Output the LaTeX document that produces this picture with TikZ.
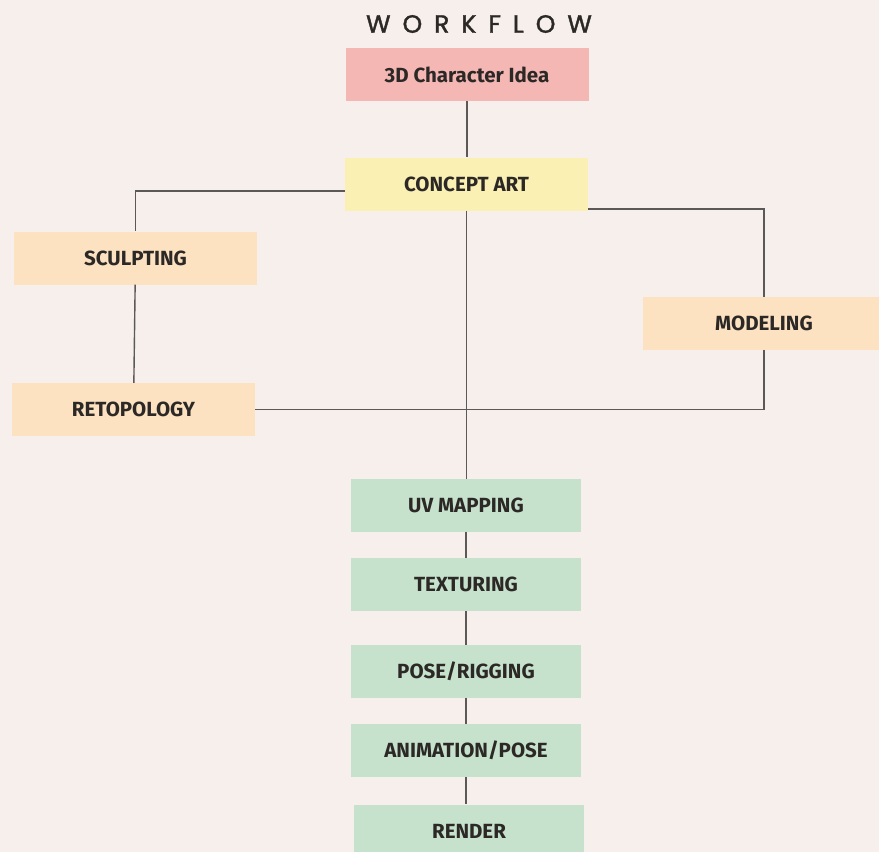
\documentclass[tikz,border=0pt]{standalone}
\usepackage{fontspec}
\setmainfont{Fira Sans}
\newfontfamily\titlefont[LetterSpace=48,FakeBold=1.5]{Poppins}
\usetikzlibrary{positioning}

\definecolor{paper}{HTML}{F6EFEB}
\definecolor{ideafill}{HTML}{F4B7B4}
\definecolor{conceptfill}{HTML}{FAF0B3}
\definecolor{shapefill}{HTML}{FDE2C2}
\definecolor{texfill}{HTML}{C6E2CC}
\definecolor{wire}{HTML}{5C5858}
\definecolor{ink}{HTML}{2B2826}

\begin{document}
\begin{tikzpicture}[x=1pt,y=-1pt]
\tikzstyle{box} = [rectangle, minimum width=243pt, minimum height=53pt,
inner sep=0pt, text=ink, font=\fontsize{20.5}{24}\selectfont\bfseries]
\tikzstyle{idea} = [box, fill=ideafill]
\tikzstyle{concept} = [box, fill=conceptfill]
\tikzstyle{shaping} = [box, fill=shapefill]
\tikzstyle{stage} = [box, fill=texfill, minimum width=230pt]
\tikzstyle{line} = [draw=wire, line width=1.4pt];

\fill[paper] (0,0) rectangle (879,852);
\useasboundingbox (0,0) rectangle (879,852);
\clip (0,0) rectangle (879,852);

\node [text=ink, font=\fontsize{25}{27}\selectfont\titlefont] (title) at (479,24) {WORKFLOW};
% top
\node [idea] (idea) at (467,74.5) {3D Character Idea};
\node [concept] (concept) at (466.5,184) {CONCEPT ART};
% sides
\node [shaping] (sculpt) at (135.5,258) {SCULPTING};
\node [shaping] (retopo) at (133.5,409.5) {RETOPOLOGY};
\node [shaping] (model) at (764,323.5) {MODELING};
% texture chain
\node [stage] (uv) at (466,505.5) {UV MAPPING};
\node [stage] (tex) at (466,584.5) {TEXTURING};
\node [stage] (rig) at (466,671.5) {POSE/RIGGING};
\node [stage] (anim) at (466,750.5) {ANIMATION/POSE};
\node [stage] (render) at (469,831) {RENDER};

\tikzstyle{every path}=[line]
\path (idea) -- (idea |- concept.north);
\path ([yshift=-7pt]concept.west) -| (sculpt);
\path (sculpt) -- (retopo);
\path ([yshift=-25pt]concept.east) -| (model);
\path (model) |- (retopo);
\path (concept) -- (concept |- uv.north);
\path (uv) -- (tex);
\path (tex) -- (rig);
\path (rig) -- (anim);
\path (anim) -- (anim |- render.north);
\end{tikzpicture}
\end{document}
